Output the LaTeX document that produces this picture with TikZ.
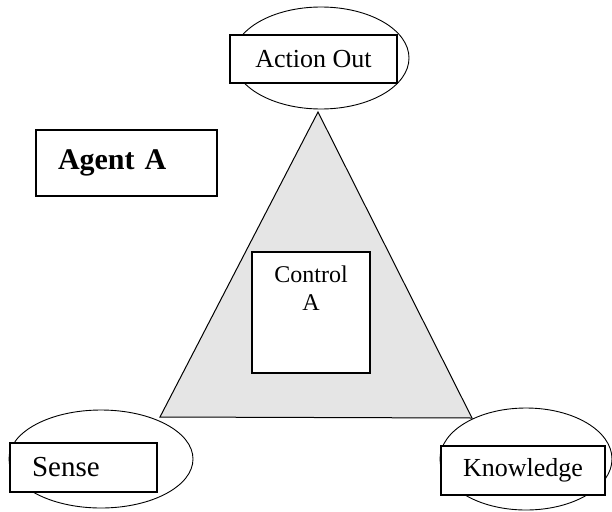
\documentclass[tikz,border=0pt]{standalone}
\usepackage{fontspec}
\setmainfont{Liberation Serif}
\usetikzlibrary{shapes.geometric,positioning}

\begin{document}
\begin{tikzpicture}[
    x=1pt, y=-1pt,
    oval/.style={ellipse, draw, line width=0.9pt, inner sep=0pt},
    block/.style={rectangle, draw, fill=white, line width=1.1pt, inner sep=0pt, font=\fontsize{24}{28}\selectfont},
    leftblock/.style={block, inner xsep=22pt, align=left},
    core/.style={draw, line width=1pt, fill=black!10, line join=miter}
]
\useasboundingbox (0,0) rectangle (612,511);

% corners of the triangle
\coordinate (top) at (318,112);
\coordinate (left) at (160,417);
\coordinate (right) at (472,418);
\filldraw [core] (top) -- (left) -- (right) -- cycle;

\node [oval, minimum width=176pt, minimum height=102pt] (actoval) at (321,58) {};
\node [oval, minimum width=184pt, minimum height=98pt] (senseoval) at (101,459) {};
\node [oval, minimum width=172pt, minimum height=102pt] (knowoval) at (526,459) {};

\node [block, minimum width=167pt, minimum height=48pt, font=\fontsize{26}{30}\selectfont] (action) at (313.5,59) {Action Out};
\node [leftblock, text width=103pt, minimum height=49pt, font=\fontsize{29}{33}\selectfont] (sense) at (83.5,467.5) {Sense};
\node [block, minimum width=164pt, minimum height=49pt, font=\fontsize{26}{30}\selectfont] (know) at (523,470.5) {Knowledge};
\node [leftblock, text width=137pt, minimum height=66pt, font=\fontsize{30}{34}\selectfont\bfseries] (agent) at (126.5,163) {Agent A};

\node [block, minimum width=118pt, minimum height=121pt] (ctrl) at (311,312.5) {};
\node [anchor=north, align=center, inner sep=0pt, font=\fontsize{24}{28}\selectfont] (ctrltxt) at ([yshift=-14pt]ctrl.north) {Control\\A};

\end{tikzpicture}
\end{document}
